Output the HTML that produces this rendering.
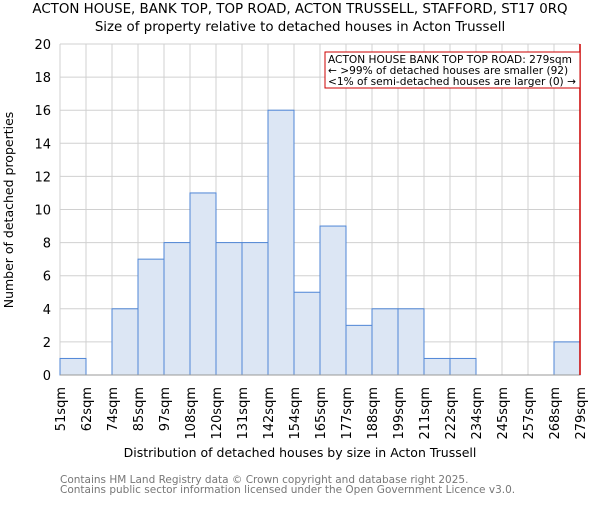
<!DOCTYPE html>
<html><head><meta charset="utf-8"><style>
body{margin:0;background:#fff;width:600px;height:500px;overflow:hidden}
svg{font-family:"DejaVu Sans","Liberation Sans",sans-serif}
</style></head><body>
<svg id="chart" width="600" height="500" xmlns="http://www.w3.org/2000/svg">
<text x="300" y="13" text-anchor="middle" font-size="13.4">ACTON HOUSE, BANK TOP, TOP ROAD, ACTON TRUSSELL, STAFFORD, ST17 0RQ</text>
<text x="300" y="31" text-anchor="middle" font-size="13.4">Size of property relative to detached houses in Acton Trussell</text>
<g id="grid"></g><g id="bars"></g><g id="axes"></g>
<text x="300" y="457" text-anchor="middle" font-size="12.5">Distribution of detached houses by size in Acton Trussell</text>
<text transform="translate(13,210) rotate(-90)" text-anchor="middle" font-size="12.5">Number of detached properties</text>
<text x="60" y="483" font-size="10.5" fill="#777">Contains HM Land Registry data © Crown copyright and database right 2025.</text>
<text x="60" y="493" font-size="10.5" fill="#777">Contains public sector information licensed under the Open Government Licence v3.0.</text>
<g>
<rect x="325" y="52" width="255" height="36" fill="#fff" stroke="#c00" stroke-width="1"/>
<text x="328" y="63" font-size="10.6">ACTON HOUSE BANK TOP TOP ROAD: 279sqm</text>
<text x="328" y="74" font-size="10.6">← &gt;99% of detached houses are smaller (92)</text>
<text x="328" y="85" font-size="10.6">&lt;1% of semi-detached houses are larger (0) →</text>
</g>
</svg>
<script>
const categories=["51sqm","62sqm","74sqm","85sqm","97sqm","108sqm","120sqm","131sqm","142sqm","154sqm","165sqm","177sqm","188sqm","199sqm","211sqm","222sqm","234sqm","245sqm","257sqm","268sqm","279sqm"];
const counts=[1,0,4,7,8,11,8,8,16,5,9,3,4,4,1,1,0,0,0,2];
const yTicks=[0,2,4,6,8,10,12,14,16,18,20];
const markerIndex=20;
const NS="http://www.w3.org/2000/svg";
const x0=60,x1=580,y0=375,y1=44,yMax=20;
const xs=i=>x0+(x1-x0)*i/counts.length;
const ys=v=>y0-(y0-y1)*v/yMax;
function mk(p,t,a){const e=document.createElementNS(NS,t);for(const k in a)e.setAttribute(k,a[k]);p.appendChild(e);return e;}
const g=document.getElementById('grid'),b=document.getElementById('bars'),ax=document.getElementById('axes');
yTicks.forEach(v=>{
 const l=mk(g,'line',{x1:x0,x2:x1,y1:ys(v),y2:ys(v),stroke:'#d0d0d0'});
 
 
 const t=mk(ax,'text',{x:x0-9,y:ys(v)+5,'text-anchor':'end','font-size':13});
 t.textContent=v;
 
 
});
categories.forEach((c,i)=>{
 const l=mk(g,'line',{x1:xs(i),x2:xs(i),y1:y1,y2:y0,stroke:'#d0d0d0'});
 
 
 const t=mk(ax,'text',{transform:`translate(${xs(i)+5},387) rotate(-90)`,'text-anchor':'end','font-size':13});
 t.textContent=c;
 
 
});
counts.forEach((v,i)=>{
 if(v<=0)return;
 const r=mk(b,'rect',{x:xs(i),y:ys(v),width:xs(i+1)-xs(i),height:y0-ys(v),fill:'#dce6f4',stroke:'#4f86d6','stroke-width':1});
 
 
});
const ln=mk(ax,'line',{x1:x0,x2:x1,y1:y0,y2:y0,stroke:'#999'});


const m=mk(ax,'line',{x1:xs(markerIndex),x2:xs(markerIndex),y1:y1,y2:y0,stroke:'#c00','stroke-width':1.5});


</script>
</body></html>
